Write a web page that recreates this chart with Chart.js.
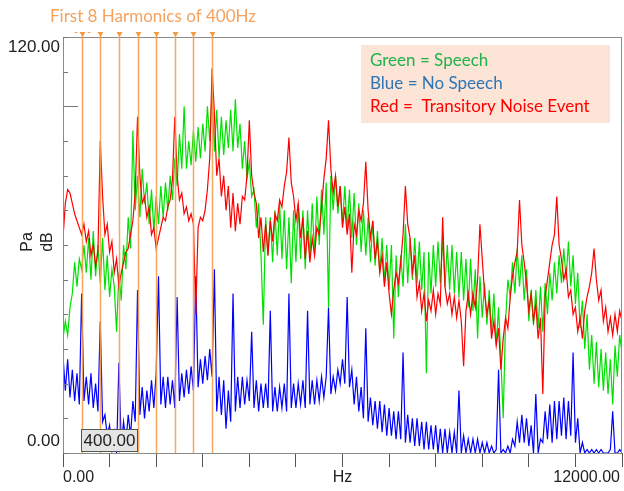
<!DOCTYPE html>
<html>
<head>
<meta charset="utf-8">
<script src="https://cdn.jsdelivr.net/npm/chart.js@4.4.1/dist/chart.umd.min.js"></script>
<style>
    html, body { margin: 0; padding: 0; background: #fff; }
    #caixa { width: 624px; height: 491px; }
</style>
</head>
<body>
<div id="caixa"><canvas id="graficoEspectro" width="624" height="491"></canvas></div>
<script>
// passo em Hz entre os pontos das séries
const passoHz = 50;

// 8 primeiras harmônicas de 400Hz
const harmonicas = [400, 800, 1200, 1600, 2000, 2400, 2800, 3200];

// Verde = fala (dB, de 0 a 12000 Hz, a cada 50 Hz)
const verdeFala = [
    33, 38, 34, 42, 46, 55, 48, 56,
    53, 60, 52, 62, 50, 64, 51, 60,
    49, 62, 47, 57, 45, 53, 48, 35,
    52, 44, 60, 53, 68, 59, 93, 70,
    80, 68, 82, 72, 78, 66, 76, 64,
    74, 66, 77, 68, 78, 70, 80, 73,
    85, 77, 92, 82, 100, 82, 90, 83,
    93, 84, 94, 85, 95, 87, 100, 90,
    104, 87, 99, 85, 97, 86, 96, 88,
    99, 87, 102, 88, 95, 82, 90, 79,
    84, 74, 76, 65, 72, 57, 37, 68,
    57, 68, 55, 70, 57, 72, 56, 70,
    53, 68, 49, 70, 55, 72, 56, 70,
    53, 70, 56, 72, 57, 74, 60, 76,
    63, 78, 42, 80, 70, 80, 69, 77,
    66, 77, 64, 76, 62, 75, 60, 72,
    58, 70, 57, 68, 55, 67, 54, 64,
    52, 62, 49, 60, 47, 60, 33, 57,
    45, 57, 48, 66, 49, 62, 50, 62,
    49, 61, 47, 58, 23, 58, 46, 60,
    48, 61, 49, 62, 48, 60, 47, 60,
    46, 58, 45, 58, 44, 56, 42, 56,
    41, 53, 33, 51, 39, 49, 37, 47,
    35, 46, 31, 42, 27, 10, 38, 50,
    45, 55, 46, 59, 48, 57, 44, 53,
    38, 47, 37, 47, 36, 48, 35, 49,
    40, 52, 44, 55, 46, 57, 49, 59,
    50, 61, 48, 57, 43, 52, 36, 44,
    30, 40, 24, 34, 20, 32, 19, 30,
    18, 29, 17, 27, 14, 31, 22, 34,
    29
];

// Vermelho = ruído transitório
const vermelhoRuido = [
    62, 72, 76, 75, 72, 69, 67, 65,
    63, 66, 61, 64, 57, 60, 54, 58,
    90, 74, 63, 66, 58, 61, 52, 56,
    48, 52, 55, 58, 59, 63, 67, 75,
    97, 80, 72, 74, 68, 71, 63, 65,
    59, 62, 65, 68, 67, 71, 73, 79,
    97, 80, 73, 75, 69, 71, 67, 69,
    66, 40, 65, 68, 67, 70, 76, 85,
    111, 98, 80, 85, 74, 80, 70, 77,
    65, 75, 64, 72, 66, 74, 73, 80,
    96, 80, 75, 72, 62, 68, 58, 66,
    57, 67, 61, 69, 67, 73, 71, 77,
    81, 91, 78, 74, 67, 72, 62, 68,
    56, 64, 55, 62, 57, 65, 63, 71,
    79, 85, 96, 82, 75, 80, 71, 77,
    65, 71, 63, 69, 52, 66, 63, 70,
    67, 72, 84, 70, 62, 67, 56, 61,
    52, 57, 48, 55, 46, 40, 47, 52,
    49, 55, 63, 77, 66, 62, 52, 57,
    45, 49, 41, 46, 38, 44, 41, 47,
    40, 46, 43, 68, 48, 43, 46, 40,
    45, 39, 44, 38, 25, 41, 46, 40,
    46, 42, 50, 66, 56, 46, 40, 44,
    33, 38, 31, 36, 24, 33, 39, 36,
    45, 51, 55, 58, 73, 60, 55, 49,
    41, 46, 38, 43, 33, 39, 17, 45,
    50, 55, 60, 63, 74, 60, 56, 50,
    53, 45, 47, 40, 42, 35, 39, 33,
    41, 45, 48, 52, 59, 50, 44, 47,
    38, 42, 35, 39, 34, 40, 35, 41,
    38
];

// Azul = sem fala
const azulSemFala = [
    28, 18, 27, 16, 24, 15, 23, 14,
    46, 15, 22, 14, 23, 13, 20, 12,
    38, 9, 11, 5, 8, 1, 6, 0,
    26, 2, 9, 3, 11, 5, 15, 9,
    47, 11, 19, 10, 18, 12, 21, 13,
    23, 51, 14, 22, 13, 22, 14, 21,
    13, 45, 15, 23, 16, 24, 17, 25,
    18, 51, 19, 27, 20, 28, 21, 30,
    22, 53, 12, 22, 11, 21, 7, 18,
    9, 46, 12, 22, 13, 22, 14, 21,
    15, 35, 13, 21, 12, 20, 13, 20,
    13, 41, 12, 19, 12, 19, 13, 20,
    12, 46, 13, 20, 13, 20, 14, 21,
    13, 41, 14, 21, 14, 21, 15, 22,
    16, 22, 42, 17, 22, 18, 24, 20,
    27, 20, 45, 19, 24, 14, 22, 12,
    19, 10, 36, 9, 16, 8, 15, 7,
    15, 6, 14, 5, 13, 5, 12, 4,
    12, 4, 29, 3, 11, 3, 10, 2,
    10, 2, 9, 1, 9, 1, 8, 1,
    8, 0, 7, 0, 7, 0, 6, 0,
    6, 0, 18, 0, 5, 0, 4, 0,
    4, 0, 4, 0, 3, 0, 3, 0,
    2, 0, 1, 24, 0, 1, 0, 2,
    0, 4, 2, 9, 3, 11, 3, 10,
    2, 8, 0, 17, 0, 4, 3, 12,
    4, 14, 3, 15, 4, 15, 5, 16,
    4, 15, 5, 29, 3, 10, 0, 3,
    0, 1, 0, 1, 0, 1, 0, 1,
    0, 0, 0, 1, 12, 0, 0, 1,
    0
];

// textos da legenda (caixa no canto)
const legendaTextos = ['Green = Speech', 'Blue = No Speech', 'Red =  Transitory Noise Event'];
const legendaCores = ['#22b14c', '#2e75b6', '#ff0000'];

const tituloHarm = 'First 8 Harmonics of 400Hz';
const rotulosY = ['120.00', '0.00'];
const rotulosX = ['0.00', 'Hz', '12000.00'];
const cursorTexto = '400.00';

function paraPontos(valores) {
    return valores.map((v, i) => ({ x: i * passoHz, y: v }));
}

// desenha frame, marcas, harmônicas e textos
const pluginExtras = {
    id: 'extras',
    afterDatasetsDraw(chart) {
        const { ctx, chartArea: a, scales: { x, y } } = chart;
        ctx.save();

        // moldura
        ctx.strokeStyle = '#8a8a8a';
        ctx.lineWidth = 1;
        ctx.strokeRect(a.left + 0.5, a.top + 0.5, a.right - a.left - 1, a.bottom - a.top);

        // marcas do eixo y (para dentro)
        ctx.strokeStyle = '#777';
        y.ticks.forEach(t => {
            const py = Math.round(y.getPixelForValue(t.value)) + 0.5;
            const comp = t.value === 100 ? 15 : 5;
            ctx.beginPath();
            ctx.moveTo(a.left, py);
            ctx.lineTo(a.left + comp, py);
            ctx.stroke();
        });

        // linhas das harmônicas
        harmonicas.forEach((h, i) => {
            const px = Math.round(x.getPixelForValue(h)) + 0.5;
            ctx.strokeStyle = 'rgba(247,158,72,0.9)';
            ctx.lineWidth = 1.5;
            ctx.beginPath();
            ctx.moveTo(px, a.top - 4);
            ctx.lineTo(px, a.bottom);
            ctx.stroke();
            ctx.fillStyle = '#f39a45';
            ctx.beginPath();
            ctx.moveTo(px - 3, a.top - 5);
            ctx.lineTo(px + 3, a.top - 5);
            ctx.lineTo(px, a.top);
            ctx.closePath();
            ctx.fill();
            if (i === 0) {
                ctx.lineWidth = 1;
                ctx.beginPath();
                ctx.moveTo(px - 8, a.top - 4.5); ctx.lineTo(px - 5, a.top - 4.5);
                ctx.moveTo(px + 5, a.top - 4.5); ctx.lineTo(px + 8, a.top - 4.5);
                ctx.stroke();
            }
        });

        // título das harmônicas
        ctx.fillStyle = '#f5a25e';
        ctx.font = '17px Lato, "Open Sans", sans-serif';
        ctx.textAlign = 'left';
        ctx.textBaseline = 'middle';
        ctx.fillText(tituloHarm, 50, 17);

        // caixa do cursor 400.00
        const cx = Math.round(x.getPixelForValue(harmonicas[0])) - 1;
        ctx.fillStyle = '#e4e4e4';
        ctx.fillRect(cx + 0.5, a.bottom - 23.5, 56, 22);
        ctx.strokeStyle = '#555';
        ctx.lineWidth = 1;
        ctx.strokeRect(cx + 0.5, a.bottom - 23.5, 56, 22);
        ctx.fillStyle = '#222';
        ctx.font = '17px "Liberation Sans", Arial, sans-serif';
        ctx.textAlign = 'center';
        ctx.fillText(cursorTexto, cx + 28.5, a.bottom - 12);

        // caixa de legenda
        ctx.fillStyle = '#fce4d6';
        ctx.fillRect(361, 45, 249, 78);
        ctx.font = '17px Lato, "Open Sans", sans-serif';
        ctx.textAlign = 'left';
        legendaTextos.forEach((txt, i) => {
            ctx.fillStyle = legendaCores[i];
            ctx.fillText(txt, 370, 61 + i * 23);
        });

        // rótulos dos eixos
        ctx.fillStyle = '#222';
        ctx.font = '17px "Liberation Sans", Arial, sans-serif';
        ctx.textAlign = 'right';
        ctx.fillText(rotulosY[0], 60, y.getPixelForValue(120) + 10);
        ctx.fillText(rotulosY[1], 60, y.getPixelForValue(0) - 12);

        ctx.font = '16px "Liberation Sans", Arial, sans-serif';
        ctx.textAlign = 'left';
        ctx.fillText(rotulosX[0], a.left, 478);
        ctx.textAlign = 'center';
        ctx.fillText(rotulosX[1], (a.left + a.right) / 2, 478);
        ctx.textAlign = 'right';
        ctx.fillText(rotulosX[2], a.right - 2, 478);

        // Pa / dB rotacionados
        ctx.font = '16px "Liberation Sans", Arial, sans-serif';
        ctx.textAlign = 'center';
        [['Pa', 28], ['dB', 48]].forEach(([txt, px]) => {
            ctx.save();
            ctx.translate(px, 242);
            ctx.rotate(-Math.PI / 2);
            ctx.fillText(txt, 0, 0);
            ctx.restore();
        });

        ctx.restore();
    }
};

const grafico = new Chart(document.getElementById('graficoEspectro'), {
    type: 'line',
    data: {
        datasets: [
            {
                label: 'Red',
                data: paraPontos(vermelhoRuido),
                borderColor: '#ff0000',
                borderWidth: 1.2,
                order: 0
            },
            {
                label: 'Green',
                data: paraPontos(verdeFala),
                borderColor: '#00e000',
                borderWidth: 1.2,
                order: 1
            },
            {
                label: 'Blue',
                data: paraPontos(azulSemFala),
                borderColor: '#0000ff',
                borderWidth: 1.2,
                order: 2
            }
        ]
    },
    options: {
        responsive: false,
        animation: false,
        devicePixelRatio: 1,
        elements: {
            point: { radius: 0 },
            line: { tension: 0 }
        },
        layout: {
            padding: { top: 37, right: 2, left: 0, bottom: 0 }
        },
        scales: {
            x: {
                type: 'linear',
                min: 0,
                max: 12000,
                ticks: { stepSize: 1000, display: false },
                grid: { drawOnChartArea: false, tickLength: 14, color: '#555' },
                border: { display: false },
                afterFit(scale) { scale.height = 38; }
            },
            y: {
                min: 0,
                max: 120,
                ticks: { stepSize: 10, display: false },
                grid: { display: false },
                border: { display: false },
                afterFit(scale) { scale.width = 63; }
            }
        },
        plugins: {
            legend: { display: false },
            title: { display: false },
            tooltip: { enabled: false }
        }
    },
    plugins: [pluginExtras]
});
</script>
</body>
</html>
